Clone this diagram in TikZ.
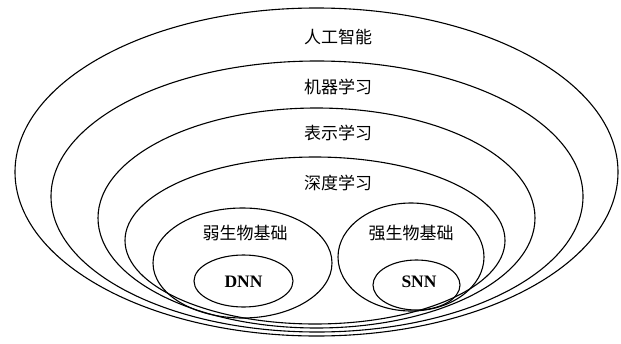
\documentclass[tikz,border=0pt]{standalone}
\usepackage{fontspec}
\newfontfamily\cjk{Noto Sans CJK SC}
\newfontfamily\lat{Liberation Serif}
\usetikzlibrary{shapes.geometric}
\begin{document}
\begin{tikzpicture}[x=1pt,y=-1pt,
  ring/.style={draw, ellipse, line width=1.1pt, inner sep=0pt, minimum width=#1},
  cjklabel/.style={font=\cjk\fontsize{17}{17}\selectfont, inner sep=0pt},
  latlabel/.style={font=\lat\bfseries\fontsize{17.5}{17.5}\selectfont, inner sep=0pt}]
\useasboundingbox (0,0) rectangle (621,343);
\node[ring=603pt, minimum height=328pt] (ai) at (316.5,172) {};
\node[ring=532pt, minimum height=271pt] (ml) at (317,196.5) {};
\node[ring=437pt, minimum height=220pt] (rl) at (316.5,218) {};
\node[ring=380pt, minimum height=167pt] (dl) at (315,240.5) {};
\node[ring=179pt, minimum height=110pt] (weak) at (242.5,263) {};
\node[ring=146pt, minimum height=108pt] (strong) at (411,257) {};
\node[ring=99pt, minimum height=52pt] (dnn) at (243.5,281) {};
\node[ring=87pt, minimum height=50pt] (snn) at (416.5,285) {};
\node[cjklabel] (tai) at (338,37) {人工智能};
\node[cjklabel] (tml) at (338,87) {机器学习};
\node[cjklabel] (trl) at (338,133) {表示学习};
\node[cjklabel] (tdl) at (338,183) {深度学习};
\node[cjklabel] (tweak) at (245,233) {弱生物基础};
\node[cjklabel] (tstrong) at (411,233) {强生物基础};
\node[latlabel] (tdnn) at (243.5,282) {DNN};
\node[latlabel] (tsnn) at (419,282) {SNN};
\end{tikzpicture}
\end{document}
